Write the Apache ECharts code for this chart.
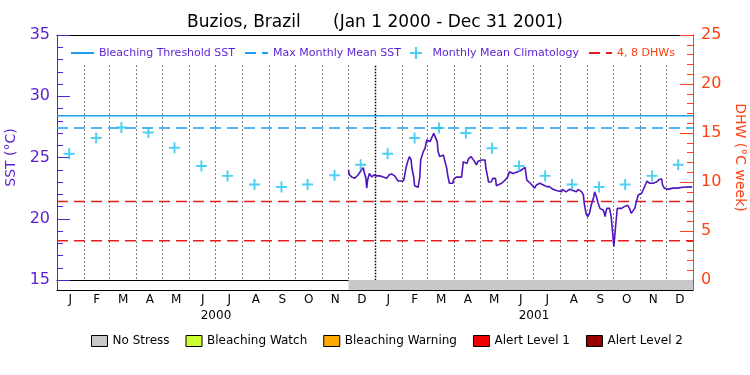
<!DOCTYPE html>
<html><head><meta charset="utf-8">
<script src="https://cdn.jsdelivr.net/npm/echarts@6/dist/echarts.min.js"></script>
<style>html,body{margin:0;padding:0;background:#fff}#c{width:750px;height:375px}</style>
</head><body><div id="c"></div>
<script>
// ---------- data ----------
const startDate = '2000-01-01';
const endDate = '2002-01-01';
const bleachingThreshold = 28.4;
const maxMonthlyMean = 27.4;
const dhwLevels = [4, 8];
const stressStart = '2000-12-01';
const stressEnd = '2002-01-01';
const monthLabels = ['J','F','M','A','M','J','J','A','S','O','N','D','J','F','M','A','M','J','J','A','S','O','N','D'];
const yearLabels = ['2000', '2001'];
const monthBoundaries = ['2000-02-01','2000-03-01','2000-04-01','2000-05-01','2000-06-01','2000-07-01','2000-08-01','2000-09-01','2000-10-01','2000-11-01','2000-12-01',
  '2001-02-01','2001-03-01','2001-04-01','2001-05-01','2001-06-01','2001-07-01','2001-08-01','2001-09-01','2001-10-01','2001-11-01','2001-12-01'];
const yearBoundaries = ['2001-01-01'];
const climDates = ['2000-01-15','2000-02-15','2000-03-15','2000-04-15','2000-05-15','2000-06-15','2000-07-15','2000-08-15','2000-09-15','2000-10-15','2000-11-15','2000-12-15',
  '2001-01-15','2001-02-15','2001-03-15','2001-04-15','2001-05-15','2001-06-15','2001-07-15','2001-08-15','2001-09-15','2001-10-15','2001-11-15','2001-12-15'];
const climValues = [25.3,26.6,27.45,27.05,25.8,24.3,23.5,22.8,22.6,22.8,23.55,24.4,
  25.3,26.6,27.4,27.0,25.75,24.3,23.5,22.8,22.6,22.8,23.5,24.4];
const sstDates = ['2000-12-01','2000-12-02','2000-12-05','2000-12-08','2000-12-12','2000-12-16','2000-12-18','2000-12-19','2000-12-21','2000-12-22','2000-12-23','2000-12-25','2000-12-26','2000-12-28','2000-12-30',
 '2001-01-02','2001-01-06','2001-01-08','2001-01-10','2001-01-14','2001-01-17','2001-01-20','2001-01-23','2001-01-25','2001-01-27',
 '2001-02-02','2001-02-03','2001-02-05','2001-02-07','2001-02-09','2001-02-11','2001-02-12','2001-02-14','2001-02-15','2001-02-19','2001-02-20','2001-02-21','2001-02-22','2001-02-25','2001-02-27',
 '2001-03-01','2001-03-03','2001-03-05','2001-03-06','2001-03-09','2001-03-11','2001-03-13','2001-03-14','2001-03-16','2001-03-18','2001-03-20','2001-03-22','2001-03-24','2001-03-25','2001-03-27','2001-03-31',
 '2001-04-01','2001-04-04','2001-04-10','2001-04-12','2001-04-14','2001-04-16','2001-04-18','2001-04-21','2001-04-23','2001-04-25','2001-04-27','2001-04-29',
 '2001-05-01','2001-05-03','2001-05-07','2001-05-08','2001-05-10','2001-05-11','2001-05-14','2001-05-16','2001-05-19','2001-05-20','2001-05-26','2001-05-30',
 '2001-06-02','2001-06-04','2001-06-06','2001-06-08','2001-06-16','2001-06-22','2001-06-24','2001-06-28',
 '2001-07-03','2001-07-05','2001-07-09','2001-07-13','2001-07-17','2001-07-20','2001-07-24','2001-07-28',
 '2001-08-03','2001-08-04','2001-08-08','2001-08-12','2001-08-16','2001-08-20','2001-08-22','2001-08-26','2001-08-28','2001-08-29','2001-08-31',
 '2001-09-02','2001-09-04','2001-09-06','2001-09-09','2001-09-10','2001-09-12','2001-09-14','2001-09-16','2001-09-18','2001-09-20','2001-09-22','2001-09-23','2001-09-24','2001-09-27','2001-09-29','2001-09-30',
 '2001-10-02','2001-10-03','2001-10-04','2001-10-06','2001-10-11','2001-10-14','2001-10-18','2001-10-20','2001-10-22','2001-10-24','2001-10-26','2001-10-28','2001-10-30',
 '2001-11-03','2001-11-05','2001-11-08','2001-11-09','2001-11-12','2001-11-16','2001-11-20','2001-11-23','2001-11-26','2001-11-27','2001-11-29',
 '2001-12-03','2001-12-09','2001-12-14','2001-12-20','2001-12-31'];
const sstValues = [23.98,23.6,23.4,23.3,23.57,24.0,24.17,23.84,23.3,22.5,23.16,23.7,23.75,23.4,23.57,
 23.5,23.5,23.6,23.4,23.3,23.6,23.65,23.5,23.3,23.08,
 23.08,23.3,24.1,24.66,25.07,24.8,24.1,23.4,22.7,22.57,22.6,23.4,24.8,25.48,25.75,
 26.43,26.5,26.3,26.5,26.97,26.97,26.3,25.48,25.07,25.2,25.2,24.66,24.1,23.57,22.9,22.9,
 23.24,23.4,23.4,24.66,24.66,24.5,24.9,25.07,24.95,24.66,24.4,24.7,
 24.7,24.8,24.8,24.1,23.4,23.0,23.0,23.3,23.3,22.7,22.9,23.16,
 23.4,23.84,23.9,23.7,23.9,24.2,23.16,22.9,
 22.5,22.76,22.9,22.76,22.62,22.62,22.4,22.3,
 22.2,22.4,22.2,22.4,22.3,22.2,22.4,22.2,21.94,21.26,20.44,
 20.17,20.44,21.1,21.8,22.2,21.8,21.26,20.85,21.0,20.7,20.17,20.6,20.85,20.85,20.17,19.35,
 17.72,18.53,19.35,20.85,20.85,20.99,21.1,20.85,20.44,20.6,20.85,21.4,21.94,
 22.08,22.2,22.9,23.08,22.9,22.9,23.0,23.2,23.25,22.76,22.5,
 22.4,22.5,22.5,22.57,22.6];
const stressNames = ['No Stress','Bleaching Watch','Bleaching Warning','Alert Level 1','Alert Level 2'];
const stressColors = ['#c8c8c8','#ccff33','#ffaa00','#f00000','#960000'];

// ---------- style ----------
const FONT = 'DejaVu Sans';
const PURPLE = '#5a1ed2';
const ORANGE = '#ff4010';
const BLUE = '#1e9ef0';
const CYAN = '#22c4f0';
const RED = '#e81c1c';
const PLUS = 'path://M4.1,0H5.9V4.1H10V5.9H5.9V10H4.1V5.9H0V4.1H4.1Z';

const chart = echarts.init(document.getElementById('c'), null, {renderer: 'canvas'});

const vline = (dash, width) => function (params, api) {
  const p1 = api.coord([api.value(0), 32.5]);
  const p2 = api.coord([api.value(0), 15]);
  const x = Math.round(p1[0]) + 0.5;
  return {type: 'line', shape: {x1: x, y1: p1[1], x2: x, y2: p2[1]},
    style: {stroke: '#000', lineWidth: width, lineDash: dash}, silent: true};
};

const hideSym = {opacity: 0};
const blackLine = {show: true, onZero: false, lineStyle: {color: '#000', width: 1}};
const noTicks = {axisTick: {show: false}, axisLabel: {show: false}, splitLine: {show: false}};

const option = {
  animation: false,
  backgroundColor: '#fff',
  title: {text: 'Buzios, Brazil      (Jan 1 2000 - Dec 31 2001)', left: 'center', top: 9,
    textStyle: {fontFamily: FONT, fontSize: 17, fontWeight: 'normal', color: '#000'}},
  grid: [
    {left: 57, right: 57, top: 35, bottom: 95, outerBoundsMode: 'none', show: false},
    {left: 57, right: 57, top: 280, height: 10, outerBoundsMode: 'none', show: false}
  ],
  legend: [
    {top: 42, left: 65, itemWidth: 23, itemHeight: 12, itemGap: 9, selectedMode: false,
     textStyle: {fontFamily: FONT, fontSize: 11, color: PURPLE},
     data: [
       {name: 'Bleaching Threshold SST', itemStyle: hideSym, textStyle: {color: PURPLE}},
       {name: 'Max Monthly Mean SST', itemStyle: hideSym, textStyle: {color: PURPLE}},
       {name: 'Monthly Mean Climatology', icon: PLUS, textStyle: {color: PURPLE}},
       {name: '4, 8 DHWs', itemStyle: hideSym, textStyle: {color: ORANGE}}
     ]},
    {top: 330, left: 86, itemWidth: 16, itemHeight: 11, itemGap: 16, selectedMode: false, icon: 'rect',
     itemStyle: {borderColor: '#000', borderWidth: 1},
     textStyle: {fontFamily: FONT, fontSize: 12, color: '#000'},
     data: stressNames}
  ],
  xAxis: [
    Object.assign({type: 'time', gridIndex: 0, position: 'bottom', min: startDate, max: endDate, axisLine: blackLine}, noTicks),
    Object.assign({type: 'time', gridIndex: 1, position: 'bottom', min: startDate, max: endDate, axisLine: blackLine}, noTicks),
    {type: 'category', gridIndex: 1, position: 'bottom', data: monthLabels, boundaryGap: true,
     axisLine: {show: false}, axisTick: {show: false}, splitLine: {show: false},
     axisLabel: {margin: 4, fontFamily: FONT, fontSize: 12, color: '#000', interval: 0}},
    {type: 'category', gridIndex: 1, position: 'bottom', offset: 16, data: yearLabels, boundaryGap: true,
     axisLine: {show: false}, axisTick: {show: false}, splitLine: {show: false},
     axisLabel: {margin: 4, fontFamily: FONT, fontSize: 12, color: '#000', interval: 0}},
    Object.assign({type: 'time', gridIndex: 0, position: 'top', min: startDate, max: endDate, axisLine: blackLine}, noTicks)
  ],
  yAxis: [
    {type: 'value', gridIndex: 0, position: 'left', min: 15, max: 35, interval: 5,
     axisLine: {show: true, onZero: false, lineStyle: {color: PURPLE}},
     axisTick: {show: true, inside: true, length: 13, lineStyle: {color: PURPLE}},
     minorTick: {show: true, splitNumber: 5, length: 6, lineStyle: {color: PURPLE}},
     axisLabel: {margin: 7, fontFamily: FONT, fontSize: 16, color: PURPLE},
     splitLine: {show: false},
     name: 'SST (°C)', nameLocation: 'middle', nameGap: 31, nameRotate: 90,
     nameTextStyle: {fontFamily: FONT, fontSize: 14, color: PURPLE}},
    {type: 'value', gridIndex: 0, position: 'right', min: 0, max: 25, interval: 5,
     axisLine: {show: true, onZero: false, lineStyle: {color: ORANGE}},
     axisTick: {show: true, inside: true, length: 13, lineStyle: {color: ORANGE}},
     minorTick: {show: true, splitNumber: 5, length: 6, lineStyle: {color: ORANGE}},
     axisLabel: {margin: 8, fontFamily: FONT, fontSize: 16, color: ORANGE},
     splitLine: {show: false},
     name: 'DHW (°C week)', nameLocation: 'middle', nameGap: 29, nameRotate: -90,
     nameTextStyle: {fontFamily: FONT, fontSize: 14, color: ORANGE}},
    Object.assign({type: 'value', gridIndex: 1, position: 'left', min: 0, max: 1,
     axisLine: {show: true, onZero: false, lineStyle: {color: PURPLE}}}, noTicks),
    Object.assign({type: 'value', gridIndex: 1, position: 'right', min: 0, max: 1,
     axisLine: {show: true, onZero: false, lineStyle: {color: ORANGE}}}, noTicks)
  ],
  series: [
    {type: 'custom', name: 'monthGrid', xAxisIndex: 0, yAxisIndex: 0, silent: true, z: 1,
     data: monthBoundaries.map(d => [d]), encode: {x: 0}, renderItem: vline([1, 3], 1)},
    {type: 'custom', name: 'yearGrid', xAxisIndex: 0, yAxisIndex: 0, silent: true, z: 1,
     data: yearBoundaries.map(d => [d]), encode: {x: 0}, renderItem: vline([1.5, 1.5], 1.5)},
    {type: 'line', name: 'stress', xAxisIndex: 1, yAxisIndex: 2, silent: true, z: 1, symbol: 'none',
     color: stressColors[0], lineStyle: {width: 0}, areaStyle: {color: stressColors[0], opacity: 1, origin: 'start'},
     data: [[stressStart, 1], [stressEnd, 1]]},
    {type: 'line', name: 'Bleaching Threshold SST', xAxisIndex: 0, yAxisIndex: 0, symbol: 'none', z: 3,
     color: BLUE, lineStyle: {color: BLUE, width: 1.5},
     data: [[startDate, bleachingThreshold], [endDate, bleachingThreshold]]},
    {type: 'line', name: 'Max Monthly Mean SST', xAxisIndex: 0, yAxisIndex: 0, symbol: 'none', z: 3,
     color: BLUE, lineStyle: {color: BLUE, width: 1.5, type: [11, 6]},
     data: [[startDate, maxMonthlyMean], [endDate, maxMonthlyMean]]},
    {type: 'line', name: '4, 8 DHWs', xAxisIndex: 0, yAxisIndex: 1, symbol: 'none', z: 3,
     color: RED, lineStyle: {color: RED, width: 1.5, type: [11, 6]},
     data: [[startDate, dhwLevels[0]], [endDate, dhwLevels[0]]]},
    {type: 'line', name: '4, 8 DHWs', xAxisIndex: 0, yAxisIndex: 1, symbol: 'none', z: 3,
     color: RED, lineStyle: {color: RED, width: 1.5, type: [11, 6]},
     data: [[startDate, dhwLevels[1]], [endDate, dhwLevels[1]]]},
    {type: 'line', name: 'SST', xAxisIndex: 0, yAxisIndex: 0, symbol: 'none', z: 4,
     color: '#5014be', lineStyle: {color: '#5014be', width: 1.6},
     data: sstDates.map((d, i) => [d, sstValues[i]])},
    {type: 'scatter', name: 'Monthly Mean Climatology', xAxisIndex: 0, yAxisIndex: 0, z: 5,
     symbol: PLUS, symbolSize: 11, color: CYAN, itemStyle: {color: CYAN},
     data: climDates.map((d, i) => [d, climValues[i]])}
  ].concat(stressNames.map((n, i) => ({
     type: 'line', name: n, xAxisIndex: 0, yAxisIndex: 0, data: [], symbol: 'rect',
     color: stressColors[i],
     itemStyle: {color: stressColors[i], borderColor: '#000', borderWidth: 1}
  })))
};
chart.setOption(option);
</script>
</body></html>
